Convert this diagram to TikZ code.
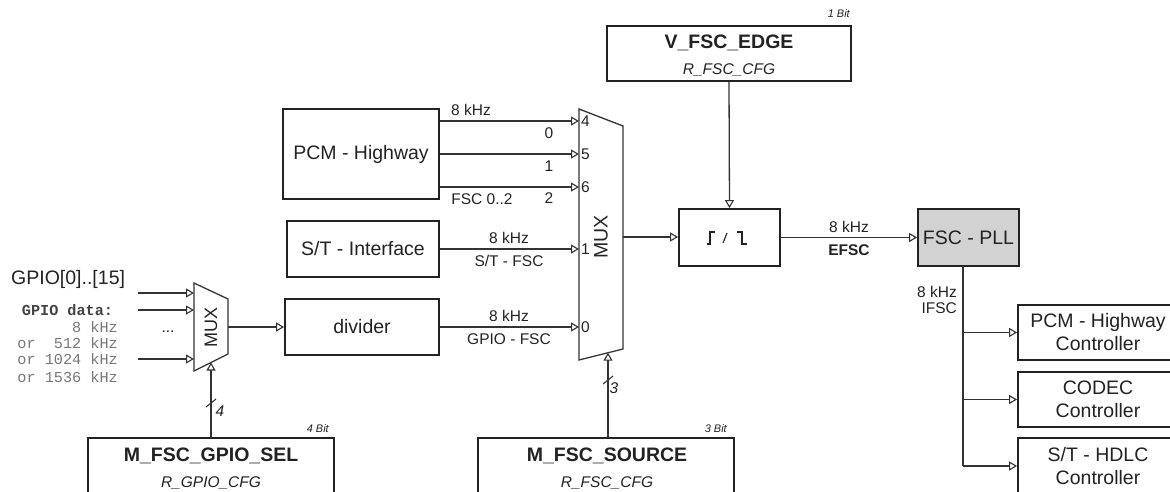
\documentclass[tikz,border=0pt]{standalone}
\usepackage{fontspec}
\setmainfont{Liberation Sans}
\setmonofont{Liberation Mono}
\usetikzlibrary{arrows.meta}
\definecolor{ink}{HTML}{222222}
\definecolor{wire}{HTML}{333333}
\definecolor{plfill}{HTML}{D2D2D2}
\definecolor{monog}{HTML}{777777}
\newcommand\bigf{\fontsize{19.5}{23}\selectfont}
\newcommand\smf{\fontsize{15.5}{18}\selectfont}
\newcommand\tnf{\fontsize{11}{13}\selectfont}
\newcommand\monof{\fontsize{15.2}{17}\selectfont}
\tikzset{
  box/.style={draw=ink, line width=1.8pt, inner sep=0pt, text=ink, font=\bigf, align=center},
  conn/.style={draw=wire, line width=1.3pt},
  arr/.style={conn, -{Triangle[open, length=8pt, width=9pt, line width=1.1pt]}},
  lbl/.style={inner sep=0pt, text=ink, font=\smf},
  biglbl/.style={inner sep=0pt, text=ink, font=\bigf},
  titl/.style={inner sep=0pt, text=ink, font=\bigf\bfseries},
  subt/.style={inner sep=0pt, text=ink, font=\smf\itshape},
  bitl/.style={inner sep=0pt, text=ink, font=\tnf\itshape, anchor=east},
  monol/.style={inner sep=0pt, text=monog, font=\monof\ttfamily, anchor=east},
  muxs/.style={draw=wire, line width=1.3pt, fill=white},
  slash/.style={draw=wire, line width=1.1pt}
}
\begin{document}
\begin{tikzpicture}[x=1pt,y=-1pt]
\useasboundingbox (0,0) rectangle (1170,492);

% ---------- boxes ----------
\node[box, minimum width=156, minimum height=90] (pcm) at (361,154) {PCM - Highway};
\node[box, minimum width=152, minimum height=56] (st) at (363,249) {S/T - Interface};
\node[box, minimum width=154, minimum height=56] (div) at (362,327) {divider};
\node[box, minimum width=101, minimum height=57] (edge) at (729.5,237.5) {};
\node[box, minimum width=101, minimum height=57, fill=plfill] (pll) at (968.5,237.5) {FSC - PLL};
\node[box, minimum width=244, minimum height=55] (vfsc) at (729,53.5) {};
\node[titl] at (729,43) {V\_FSC\_EDGE};
\node[subt] at (729,70) {R\_FSC\_CFG};
\node[bitl] at (850,14) {1 Bit};

\node[box, minimum width=160, minimum height=55] (c1) at (1098,332.5) {PCM - Highway\\Controller};
\node[box, minimum width=160, minimum height=55] (c2) at (1098,399.5) {CODEC\\Controller};
\node[box, minimum width=160, minimum height=57] (c3) at (1098,466.5) {S/T - HDLC\\Controller};

\node[box, minimum width=246, minimum height=63] (gsel) at (211,469.5) {};
\node[titl] at (211,456) {M\_FSC\_GPIO\_SEL};
\node[subt] at (211,483) {R\_GPIO\_CFG};
\node[bitl] at (329,429) {4 Bit};

\node[box, minimum width=256, minimum height=63] (src) at (606,469.5) {};
\node[titl] at (607,456) {M\_FSC\_SOURCE};
\node[subt] at (607,483) {R\_FSC\_CFG};
\node[bitl] at (727,429) {3 Bit};

% ---------- big mux ----------
\coordinate (bm1) at (579,109);
\coordinate (bm2) at (623,126);
\coordinate (bm3) at (623,349);
\coordinate (bm4) at (579,360);
\path[muxs] (bm1) -- (bm2) -- (bm3) -- (bm4) -- cycle;
\node[biglbl, rotate=90] (bmux) at (601,237) {MUX};
\coordinate (p4) at (579,121);
\coordinate (p5) at (579,154);
\coordinate (p6) at (579,187);
\coordinate (p1) at (579,249);
\coordinate (p0) at (579,327);
\coordinate (bmout) at (623,237);
\coordinate (bmsel) at (608,352.7);

\node[lbl, anchor=west] at (581,121) {4};
\node[lbl, anchor=west] at (581,154) {5};
\node[lbl, anchor=west] at (581,187) {6};
\node[lbl, anchor=west] at (581,249) {1};
\node[lbl, anchor=west] at (581,327) {0};

\draw[arr] (pcm.east |- p4) -- (p4);
\draw[arr] (pcm.east |- p5) -- (p5);
\draw[arr] (pcm.east |- p6) -- (p6);
\node[lbl] at (471,110) {8 kHz};
\node[lbl] at (549,133) {0};
\node[lbl] at (549,166) {1};
\node[lbl] at (549,198) {2};
\node[lbl] at (482,199) {FSC 0..2};

\draw[arr] (st.east |- p1) -- (p1);
\node[lbl] at (509,238) {8 kHz};
\node[lbl] at (509,261) {S/T - FSC};

\draw[arr] (div.east |- p0) -- (p0);
\node[lbl] at (509,316) {8 kHz};
\node[lbl] at (509,339) {GPIO - FSC};

\draw[arr] (bmout) -- (edge.west |- bmout);
\draw[arr] (vfsc.south) -- (edge.north);

% edge symbol
\begin{scope}[shift={(edge.center)}]
  \draw[draw=ink, line width=1.1pt] (-23,6.5) -- (-19.5,6.5) -- (-19.5,-5.5) -- (-14.5,-5.5);
  \draw[draw=ink, line width=1.1pt] (-6.5,5.5) -- (-2.5,-4.5);
  \draw[draw=ink, line width=1.1pt] (7.5,-5.5) -- (12.5,-5.5) -- (12.5,6.5) -- (17,6.5);
\end{scope}

\draw[arr] (edge.east) -- (pll.west);
\node[lbl] at (849,227) {8 kHz};
\node[lbl, font=\smf\bfseries] at (849,250) {EFSC};

% select of big mux
\draw[arr] (src.north -| bmsel) -- (bmsel);
\draw[slash] (603,384) -- (613,376);
\node[lbl, font=\smf\itshape] at (614,388) {3};

% ---------- PLL distribution ----------
\coordinate (trunk) at (963,266);
\coordinate (b1) at (963,332.5);
\coordinate (b2) at (963,399.5);
\coordinate (b3) at (963,466);
\draw[conn] (trunk) -- (b3);
\draw[arr] (b1) -- (c1.west |- b1);
\draw[arr] (b2) -- (c2.west |- b2);
\draw[arr] (b3) -- (c3.west |- b3);
\node[lbl, anchor=east] at (957,292) {8 kHz};
\node[lbl, anchor=east] at (957,308) {IFSC};

% ---------- small mux ----------
\coordinate (sm1) at (194,283);
\coordinate (sm2) at (228,299);
\coordinate (sm3) at (228,354);
\coordinate (sm4) at (194,371);
\path[muxs] (sm1) -- (sm2) -- (sm3) -- (sm4) -- cycle;
\node[biglbl, rotate=90, font=\fontsize{18}{20}\selectfont] (smux) at (211,327) {MUX};
\coordinate (i1s) at (138,293);
\coordinate (i2s) at (138,310);
\coordinate (i3s) at (138,359);
\coordinate (i1) at (194,293);
\coordinate (i2) at (194,310);
\coordinate (i3) at (194,359);
\coordinate (smout) at (228,327);
\coordinate (smsel) at (211,362.5);
\draw[arr] (i1s) -- (i1);
\draw[arr] (i2s) -- (i2);
\draw[arr] (i3s) -- (i3);
\node[lbl] at (168,332) {...};
\draw[arr] (smout) -- (div.west |- smout);
\draw[arr] (gsel.north -| smsel) -- (smsel);
\draw[slash] (206,407) -- (216,399);
\node[lbl, font=\smf\itshape] at (220,411) {4};

% ---------- GPIO texts ----------
\node[biglbl, anchor=west] at (11,279) {GPIO[0]..[15]};
\node[inner sep=0pt, text=ink!85, font=\monof\ttfamily\bfseries] at (67.5,310) {GPIO data:};
\node[monol] at (118,327) {8 kHz};
\node[monol] at (118,343) {or\ \ 512 kHz};
\node[monol] at (118,359.5) {or 1024 kHz};
\node[monol] at (118,377) {or 1536 kHz};
\end{tikzpicture}
\end{document}
